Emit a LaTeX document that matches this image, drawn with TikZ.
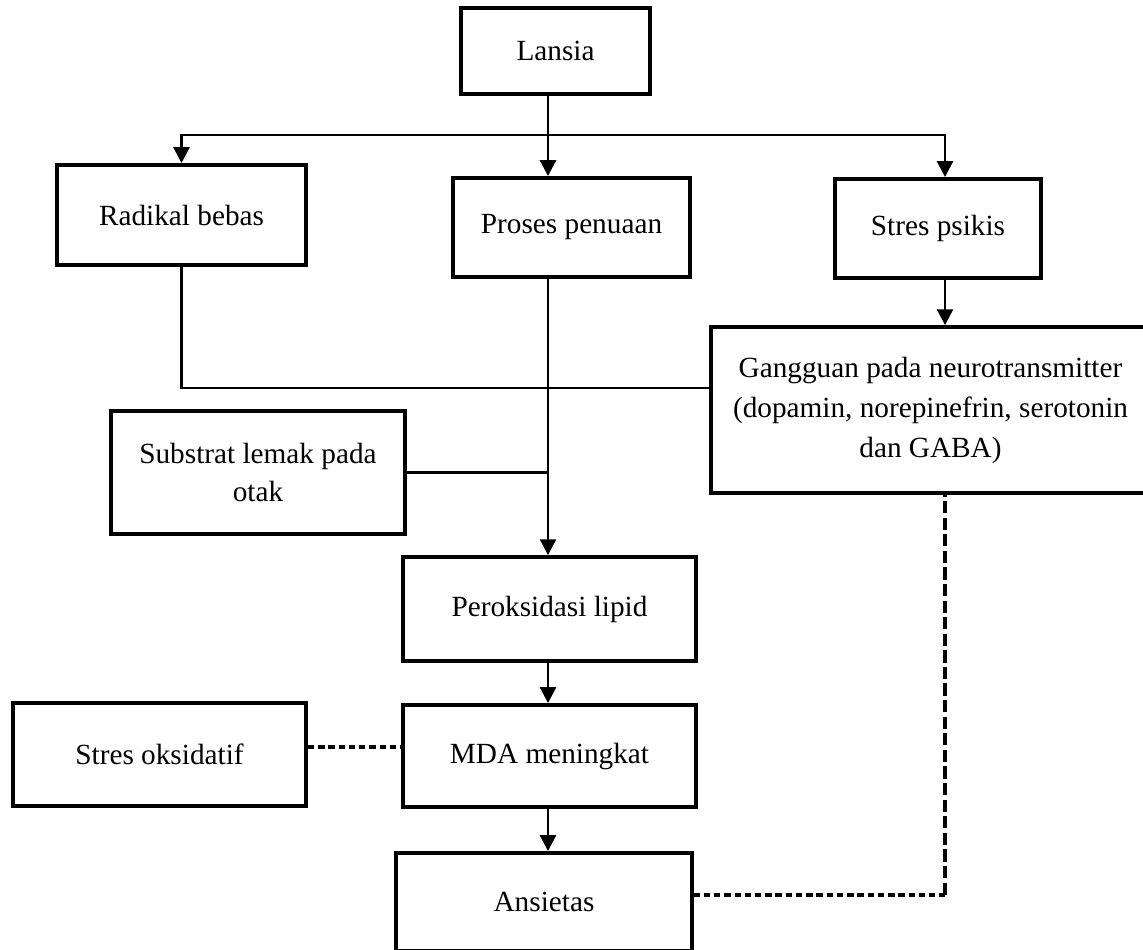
\documentclass[tikz,border=0pt]{standalone}
\usepackage{fontspec}
\setmainfont{Liberation Serif}
\usepackage{tikz}
\usetikzlibrary{arrows.meta, positioning, calc}

\begin{document}
\begin{tikzpicture}[
    x=0.41pt, y=-0.41pt,
    every node/.style={font=\fontsize{12}{16.4}\selectfont},
    box/.style={draw, line width=1.6pt, rectangle, inner sep=0pt, align=center},
    link/.style={line width=1.2pt},
    flow/.style={link, -{Triangle[length=6.5pt, width=6.5pt]}},
    weaklink/.style={line width=1.5pt, dash pattern=on 2.6pt off 1.6pt},
    longdash/.style={line width=1.3pt, dash pattern=on 5pt off 1.8pt}
]
    \useasboundingbox (0,0) rectangle (1143,949);

    \node[box, minimum width=77.5pt, minimum height=35.3pt] (lansia) at (555.5,51) {Lansia};
    \node[box, minimum width=102.1pt, minimum height=41pt] (radikal) at (181.5,215) {Radikal bebas};
    \node[box, minimum width=97.2pt, minimum height=40.6pt] (proses) at (571.5,227.5) {Proses penuaan};
    \node[box, minimum width=84.5pt, minimum height=40.6pt] (psikis) at (938,228.5) {Stres psikis};
    \node[box, minimum width=180pt, minimum height=68pt] (gangguan) at (930.5,410)
        {Gangguan pada neurotransmitter\\(dopamin, norepinefrin, serotonin\\dan GABA)};
    \node[box, minimum width=120.5pt, minimum height=50.4pt,
          font=\fontsize{12}{15.6}\selectfont] (substrat) at (258,472.5) {Substrat lemak pada\\otak};
    \node[box, minimum width=120.1pt, minimum height=42.6pt] (peroksidasi) at (549.5,609) {Peroksidasi lipid};
    \node[box, minimum width=120.1pt, minimum height=41.8pt] (mda) at (549.5,756) {MDA meningkat};
    \node[box, minimum width=120.1pt, minimum height=42.2pt] (oksidatif) at (159.5,754.5) {Stres oksidatif};
    \node[box, minimum width=121pt, minimum height=40.2pt] (ansietas) at (544,902) {Ansietas};

    \coordinate (fork) at (548,135);
    \coordinate (rfork) at (945,135);
    \coordinate (cross) at (548,388);

    \draw[link] (lansia.south -| fork) -- (fork);
    \draw[flow] (fork) -| (radikal.north);
    \draw[flow] (fork) -- (proses.north -| fork);
    \draw[flow] (fork) -- (rfork) -- (psikis.north -| rfork);
    \draw[flow] (psikis.south -| rfork) -- (gangguan.north -| rfork);

    \draw[link] (radikal.south) |- (cross) -- (cross -| gangguan.west);
    \draw[link] (substrat.east) -- (substrat.east -| fork);
    \draw[flow] (proses.south -| fork) -- (peroksidasi.north -| fork);
    \draw[flow] (peroksidasi.south -| fork) -- (mda.north -| fork);
    \draw[flow] (mda.south -| fork) -- (ansietas.north -| fork);

    \draw[weaklink] ([yshift=3pt]oksidatif.east) -- ([yshift=3pt]oksidatif.east -| mda.west);
    \draw[weaklink] ([yshift=3pt]ansietas.east) -- ([yshift=3pt]ansietas.east -| rfork);
    \draw[longdash] ([yshift=3pt]ansietas.east -| rfork) -- (gangguan.south -| rfork);
\end{tikzpicture}
\end{document}
